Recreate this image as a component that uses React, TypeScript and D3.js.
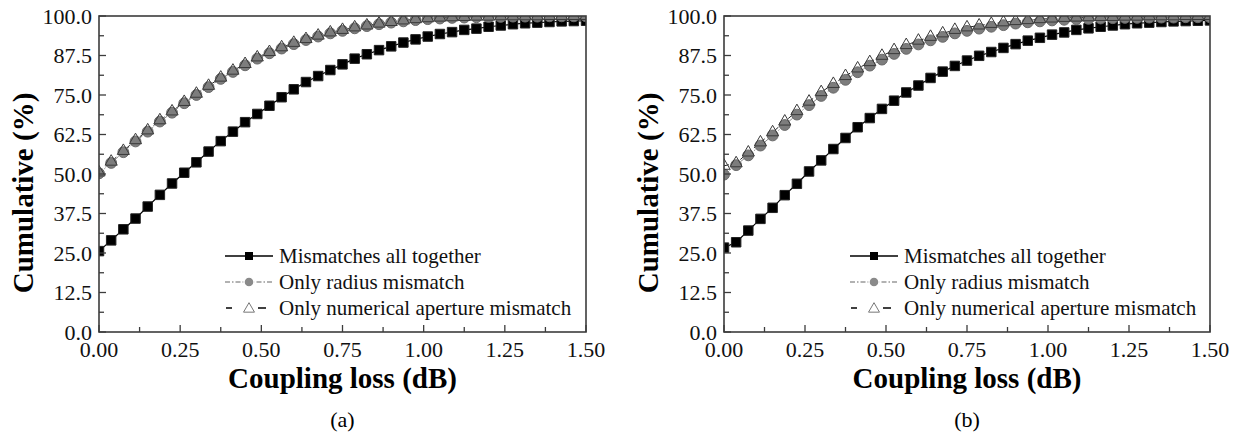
import React from 'react'
import * as d3 from 'd3'

const width = 1240
const height = 436
const top = 16
const bottom = 332
const serif = { fontFamily: "'Liberation Serif', 'Times New Roman', 'DejaVu Serif', serif" }

// coupling loss (dB), the 41 sampled points
const couplingLoss = [
    0.0, 0.0375, 0.075, 0.1125, 0.15, 0.1875, 0.225, 0.2625, 0.3, 0.3375, 0.375,
    0.4125, 0.45, 0.4875, 0.525, 0.5625, 0.6, 0.6375, 0.675, 0.7125, 0.75,
    0.7875, 0.825, 0.8625, 0.9, 0.9375, 0.975, 1.0125, 1.05, 1.0875, 1.125,
    1.1625, 1.2, 1.2375, 1.275, 1.3125, 1.35, 1.3875, 1.425, 1.4625, 1.5,
]

// panel (a)
const allA = [
    25.6, 29.0, 32.5, 35.9, 39.7, 43.4, 47.0, 50.4, 53.7, 57.1, 60.4, 63.4, 66.4,
    69.0, 71.6, 74.3, 76.8, 79.1, 81.0, 82.9, 84.7, 86.5, 87.9, 89.2, 90.4, 91.6,
    92.6, 93.5, 94.3, 94.9, 95.6, 96.0, 96.6, 97.0, 97.4, 97.7, 97.9, 98.1, 98.3,
    98.4, 98.5,
]
const radiusA = [
    50.2, 53.5, 56.9, 60.3, 63.4, 66.6, 69.4, 72.4, 75.0, 77.5, 80.1, 82.3, 84.4,
    86.5, 88.2, 89.7, 91.1, 92.4, 93.5, 94.5, 95.3, 96.1, 96.8, 97.4, 97.9, 98.3,
    98.7, 99.0, 99.2, 99.4, 99.5, 99.6, 99.7, 99.7, 99.8, 99.8, 99.8, 99.9, 99.9,
    99.9, 99.9,
]
const apertureA = [
    50.5, 53.9, 57.3, 60.7, 63.8, 67.0, 69.8, 72.8, 75.4, 77.9, 80.5, 82.7, 84.8,
    86.9, 88.6, 90.1, 91.5, 92.7, 93.8, 94.8, 95.6, 96.4, 97.0, 97.6, 98.1, 98.6,
    99.0, 99.3, 99.5, 99.6, 99.7, 99.8, 99.8, 99.9, 99.9, 99.9, 99.9, 100.0,
    100.0, 100.0, 100.0,
]

// panel (b)
const allB = [
    26.7, 28.4, 32.1, 35.8, 39.3, 43.3, 46.9, 50.8, 54.3, 57.9, 61.4, 64.8, 67.7,
    70.6, 73.2, 75.8, 78.0, 80.4, 82.4, 84.2, 85.9, 87.4, 88.6, 89.9, 91.1, 92.2,
    93.1, 94.1, 94.8, 95.6, 96.1, 96.6, 97.0, 97.4, 97.7, 97.9, 98.1, 98.3, 98.4,
    98.5, 98.6,
]
const radiusB = [
    49.8, 52.8, 55.9, 59.0, 62.2, 65.5, 68.8, 71.8, 74.7, 77.3, 79.8, 82.2, 84.3,
    86.2, 88.0, 89.6, 91.0, 92.3, 93.4, 94.5, 95.3, 96.0, 96.6, 97.1, 97.6, 98.0,
    98.3, 98.6, 98.8, 99.0, 99.1, 99.2, 99.3, 99.4, 99.4, 99.5, 99.5, 99.5, 99.6,
    99.6, 99.6,
]
const apertureB = [
    52.6, 53.4, 56.8, 60.0, 63.2, 66.6, 69.9, 72.9, 75.9, 78.5, 81.0, 83.4, 85.4,
    87.4, 89.2, 90.8, 92.2, 93.4, 94.5, 95.6, 96.4, 97.0, 97.5, 98.0, 98.4, 98.7,
    99.0, 99.2, 99.4, 99.5, 99.6, 99.7, 99.7, 99.8, 99.8, 99.9, 99.9, 99.9,
    100.0, 100.0, 100.0,
]

const yTicks = [0, 12.5, 25, 37.5, 50, 62.5, 75, 87.5, 100]
const xTicks = [0, 0.25, 0.5, 0.75, 1.0, 1.25, 1.5]
const legendLabels = [
    'Mismatches all together',
    'Only radius mismatch',
    'Only numerical aperture mismatch',
]

const squarePath = d3.symbol(d3.symbolSquare, 90)()
const circlePath = d3.symbol(d3.symbolCircle, 92)()
const trianglePath = d3.symbol(d3.symbolTriangle, 64)()
const legendTriangle = d3.symbol(d3.symbolTriangle, 52)()
const legendSquare = d3.symbol(d3.symbolSquare, 64)()
const legendCircle = d3.symbol(d3.symbolCircle, 80)()

const axisColor = '#3c3c3c'

function Panel({ x0, x1, all, radius, aperture, tag, id }) {
    const xScale = d3.scaleLinear().domain([0, 1.5]).range([x0, x1])
    const yScale = d3.scaleLinear().domain([0, 100]).range([bottom, top])
    const line = (vals) =>
        d3
            .line()
            .x((d, i) => xScale(couplingLoss[i]))
            .y((d) => yScale(d))(vals)

    const xMinor = d3.range(0, 1.5001, 0.125)
    const yMinor = d3.range(0, 100.01, 6.25)
    const lx = x0 + 126
    const rows = [256, 282, 308]

    return (
        <g style={serif}>
            <defs>
                <clipPath id={id}>
                    <rect x={x0} y={top} width={x1 - x0} height={bottom - top} />
                </clipPath>
            </defs>
            <g clipPath={`url(#${id})`}>
                <path d={line(all)} fill="none" stroke="#000" strokeWidth={1.2} />
                <path
                    d={line(radius)}
                    fill="none"
                    stroke="#888"
                    strokeWidth={1}
                    strokeDasharray="5,2,1.5,2"
                />
                <path
                    d={line(aperture)}
                    fill="none"
                    stroke="#222"
                    strokeWidth={1}
                    strokeDasharray="5,4"
                />
                {all.map((d, i) => (
                    <path
                        key={'s' + i}
                        d={squarePath}
                        transform={`translate(${xScale(couplingLoss[i])},${yScale(d)})`}
                        fill="#000"
                        stroke="#222"
                    />
                ))}
                {radius.map((d, i) => (
                    <path
                        key={'c' + i}
                        d={circlePath}
                        transform={`translate(${xScale(couplingLoss[i])},${yScale(d)})`}
                        fill="#7d7d7d"
                        stroke="#6a6a6a"
                    />
                ))}
                {aperture.map((d, i) => (
                    <path
                        key={'t' + i}
                        d={trianglePath}
                        transform={`translate(${xScale(couplingLoss[i])},${yScale(d)})`}
                        fill="none"
                        stroke="#3a3a3a"
                        strokeWidth={1}
                    />
                ))}
            </g>

            {/* frame */}
            <rect
                x={x0}
                y={top}
                width={x1 - x0}
                height={bottom - top}
                fill="none"
                stroke={axisColor}
                strokeWidth={1.6}
            />

            {xMinor.map((t, i) => (
                <line
                    key={'xm' + i}
                    x1={xScale(t)}
                    x2={xScale(t)}
                    y1={bottom}
                    y2={bottom - (i % 2 === 0 ? 7 : 5)}
                    stroke={axisColor}
                    strokeWidth={1.3}
                />
            ))}
            {yMinor.map((t, i) => (
                <line
                    key={'ym' + i}
                    x1={x0}
                    x2={x0 + (i % 2 === 0 ? 7 : 5)}
                    y1={yScale(t)}
                    y2={yScale(t)}
                    stroke={axisColor}
                    strokeWidth={1.3}
                />
            ))}
            {xTicks.map((t) => (
                <text
                    key={'xt' + t}
                    x={xScale(t)}
                    y={357}
                    textAnchor="middle"
                    fontSize={22}
                    fill="#111"
                >
                    {t.toFixed(2)}
                </text>
            ))}
            {yTicks.map((t) => (
                <text
                    key={'yt' + t}
                    x={x0 - 7}
                    y={yScale(t) + 7.5}
                    textAnchor="end"
                    fontSize={22}
                    fill="#111"
                >
                    {t.toFixed(1)}
                </text>
            ))}

            <text
                transform={`translate(${x0 - 66},193) rotate(-90)`}
                textAnchor="middle"
                fontSize={29}
                fontWeight="bold"
                fill="#000"
            >
                Cumulative (%)
            </text>
            <text
                x={(x0 + x1) / 2}
                y={388}
                textAnchor="middle"
                fontSize={29}
                fontWeight="bold"
                fill="#000"
            >
                Coupling loss (dB)
            </text>
            <text x={(x0 + x1) / 2} y={427} textAnchor="middle" fontSize={22} fill="#000">
                {tag}
            </text>

            {/* legend */}
            <line x1={lx} x2={lx + 48} y1={rows[0]} y2={rows[0]} stroke="#000" strokeWidth={1.5} />
            <path d={legendSquare} transform={`translate(${lx + 24},${rows[0]})`} fill="#000" />
            <line
                x1={lx}
                x2={lx + 48}
                y1={rows[1]}
                y2={rows[1]}
                stroke="#999"
                strokeWidth={1.3}
                strokeDasharray="5,2,1.5,2"
            />
            <path
                d={legendCircle}
                transform={`translate(${lx + 24},${rows[1]})`}
                fill="#8a8a8a"
                stroke="#fff"
                strokeWidth={1.5}
            />
            <line x1={lx + 1} x2={lx + 7} y1={rows[2]} y2={rows[2]} stroke="#000" strokeWidth={1.5} />
            <line x1={lx + 33} x2={lx + 41} y1={rows[2]} y2={rows[2]} stroke="#000" strokeWidth={1.5} />
            <path
                d={legendTriangle}
                transform={`translate(${lx + 24},${rows[2] + 1})`}
                fill="#fff"
                stroke="#777"
                strokeWidth={1}
            />
            {legendLabels.map((l, i) => (
                <text key={l} x={lx + 54} y={rows[i] + 7} fontSize={21} fill="#111">
                    {l}
                </text>
            ))}
        </g>
    )
}

export default function App() {
    return (
        <svg
            width={width}
            height={height}
            style={{ position: 'absolute', left: 0, top: 0, background: '#fff' }}
        >
            <rect width={width} height={height} fill="#fff" />
            <Panel x0={99} x1={586} all={allA} radius={radiusA} aperture={apertureA} tag="(a)" id="clipA" />
            <Panel x0={724} x1={1210} all={allB} radius={radiusB} aperture={apertureB} tag="(b)" id="clipB" />
        </svg>
    )
}
